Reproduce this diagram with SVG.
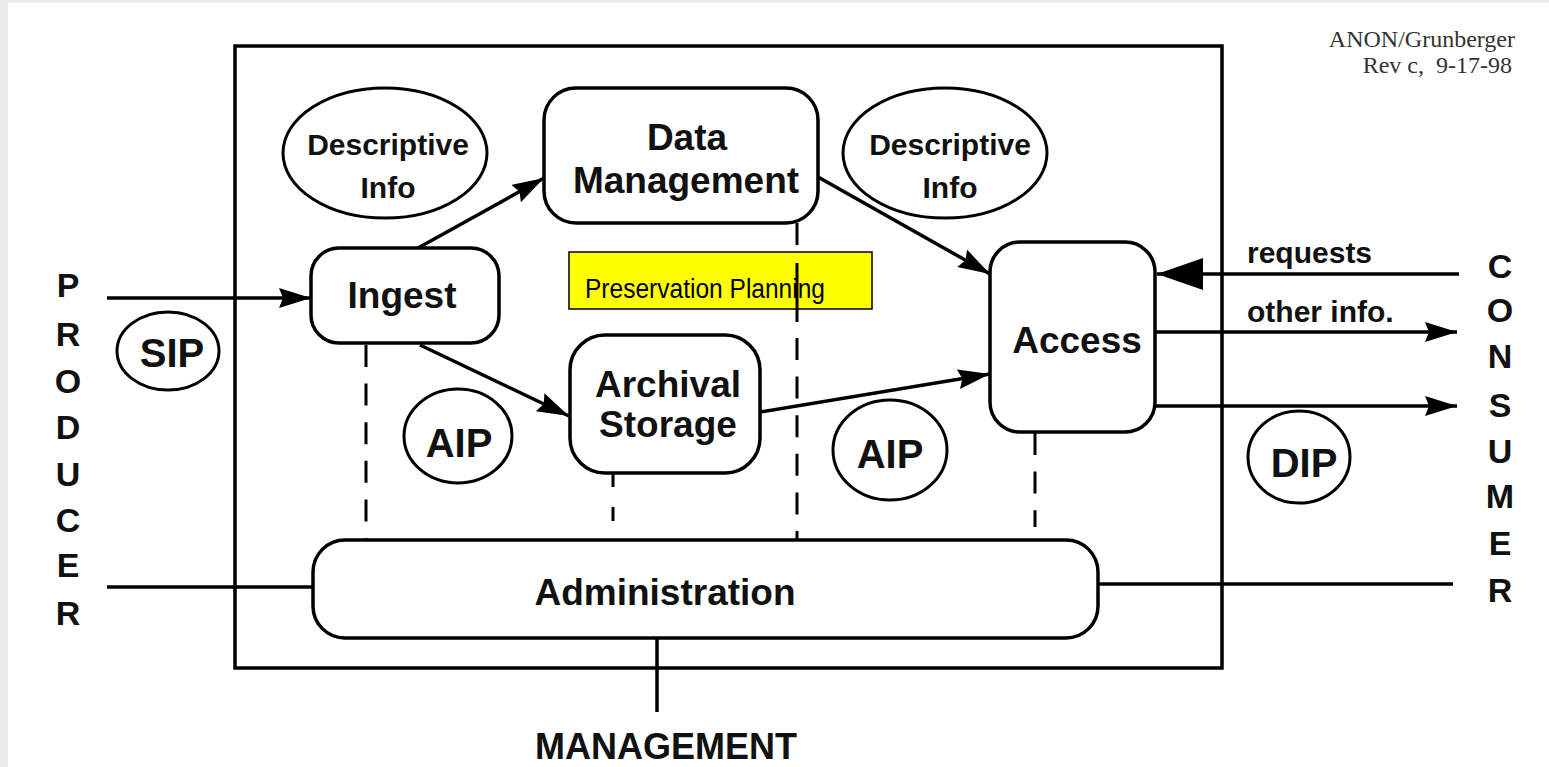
<svg xmlns="http://www.w3.org/2000/svg" width="1549" height="767" viewBox="0 0 1549 767">
<style>
.bx{fill:#fff;stroke:#000;stroke-width:3.5}
.el{fill:#fff;stroke:#000;stroke-width:3}
.ln{fill:none;stroke:#000;stroke-width:3.5}
.ds{fill:none;stroke:#000;stroke-width:3;stroke-dasharray:22 16.6}
.t{font-family:"Liberation Sans",Arial,sans-serif;font-weight:bold;fill:#111;text-anchor:middle}
.l{font-family:"Liberation Sans",Arial,sans-serif;font-weight:bold;fill:#111}
.s{font-family:"Liberation Serif","Times New Roman",serif;fill:#333;text-anchor:end;font-size:24px;white-space:pre}
</style>
<defs>
<marker id="arr" markerUnits="userSpaceOnUse" markerWidth="34" markerHeight="22" refX="32" refY="10" orient="auto">
<path d="M0,0 L32,10 L0,20 L4,10 z" fill="#000"/>
</marker>
<marker id="arrBig" markerUnits="userSpaceOnUse" markerWidth="48" markerHeight="34" refX="46" refY="16" orient="auto">
<path d="M0,0 L46,16 L0,32 z" fill="#000"/>
</marker>
</defs>
<rect x="0" y="0" width="1549" height="767" fill="#ebebeb"/>
<rect x="8" y="3" width="1541" height="764" fill="#fff"/>

<g id="archive-boundary"><rect x="235" y="46" width="987" height="622" fill="none" stroke="#000" stroke-width="3.5"/></g>

<g id="connectors">
<path class="ln" d="M107,298 H311" marker-end="url(#arr)"/>
<path class="ln" d="M107,587 H313"/>
<path class="ln" d="M1098,584 H1453"/>
<path class="ln" d="M1459,274 H1157" marker-end="url(#arrBig)"/>
<path class="ln" d="M1155,332 H1457" marker-end="url(#arr)"/>
<path class="ln" d="M1155,406 H1457" marker-end="url(#arr)"/>
<path class="ln" d="M418,248 L544,178" marker-end="url(#arr)"/>
<path class="ln" d="M420,345 L569,416" marker-end="url(#arr)"/>
<path class="ln" d="M818,177 L990,274" marker-end="url(#arr)"/>
<path class="ln" d="M760,412 L990,374" marker-end="url(#arr)"/>
<path class="ln" d="M657,638 V712"/>
<path class="ds" d="M366,345 V540"/>
<path class="ds" d="M613,473 V527" style="stroke-dasharray:14 20"/>
<path class="ds" d="M1035,433 V527"/>
</g>

<g id="preservation-planning">
<rect x="569" y="252" width="303" height="57" fill="#ffff00" stroke="#000" stroke-width="1.5"/>
<text x="585" y="298" font-family="'Liberation Sans',Arial,sans-serif" font-size="27" textLength="240" lengthAdjust="spacingAndGlyphs" fill="#000">Preservation Planning</text>
</g>
<g id="dm-admin-link"><path class="ds" d="M797,223 V540" style="stroke-dasharray:22 18 59 16 22 16.6 22 16.6 22 16.6 22 16.6 22 16.6 22 100"/></g>

<g id="desc-info-left"><ellipse class="el" cx="385" cy="153" rx="102" ry="65"/><text class="t" x="388" y="155" font-size="30">Descriptive</text><text class="t" x="388" y="198" font-size="30">Info</text></g>
<g id="desc-info-right"><ellipse class="el" cx="945" cy="153" rx="102" ry="65"/><text class="t" x="950" y="155" font-size="30">Descriptive</text><text class="t" x="950" y="198" font-size="30">Info</text></g>
<g id="ingest"><rect class="bx" x="311" y="248" width="188" height="95" rx="28"/><text class="t" x="402" y="308" font-size="37">Ingest</text></g>
<g id="data-management"><rect class="bx" x="544" y="88" width="274" height="135" rx="32"/><text class="t" x="687" y="150" font-size="37">Data</text><text class="t" x="686" y="193" font-size="37">Management</text></g>
<g id="archival-storage"><rect class="bx" x="570" y="335" width="190" height="138" rx="35"/><text class="t" x="668" y="397" font-size="37">Archival</text><text class="t" x="668" y="437" font-size="37">Storage</text></g>
<g id="access"><rect class="bx" x="990" y="242" width="165" height="190" rx="30"/><text class="t" x="1077" y="353" font-size="37">Access</text></g>
<g id="administration"><rect class="bx" x="313" y="540" width="785" height="98" rx="32"/><text class="t" x="665" y="605" font-size="37">Administration</text></g>

<g id="sip"><ellipse class="el" cx="168" cy="351" rx="51" ry="39"/><text class="t" x="172" y="367" font-size="40">SIP</text></g>
<g id="aip-left"><ellipse class="el" cx="458" cy="436" rx="54" ry="47"/><text class="t" x="459" y="457" font-size="40">AIP</text></g>
<g id="aip-right"><ellipse class="el" cx="890" cy="450" rx="57" ry="50"/><text class="t" x="890" y="468" font-size="40">AIP</text></g>
<g id="dip"><ellipse class="el" cx="1299" cy="457" rx="51" ry="46"/><text class="t" x="1304" y="477" font-size="40">DIP</text></g>

<g id="labels">
<text class="l" x="1247" y="263" font-size="30">requests</text>
<text class="l" x="1247" y="322" font-size="30">other info.</text>
<text class="t" x="666" y="759" font-size="36">MANAGEMENT</text>
<text class="s" x="1515" y="47">ANON/Grunberger</text>
<text class="s" x="1512" y="73">Rev c,  9-17-98</text>
</g>

<g id="producer" class="t" font-size="34">
<text class="t" x="68" y="297">P</text>
<text class="t" x="68" y="346">R</text>
<text class="t" x="68" y="393">O</text>
<text class="t" x="68" y="439">D</text>
<text class="t" x="68" y="486">U</text>
<text class="t" x="68" y="532">C</text>
<text class="t" x="68" y="577">E</text>
<text class="t" x="68" y="625">R</text>
</g>
<g id="consumer" class="t" font-size="34">
<text class="t" x="1500" y="278">C</text>
<text class="t" x="1500" y="322">O</text>
<text class="t" x="1500" y="368">N</text>
<text class="t" x="1500" y="417">S</text>
<text class="t" x="1500" y="463">U</text>
<text class="t" x="1500" y="508">M</text>
<text class="t" x="1500" y="555">E</text>
<text class="t" x="1500" y="602">R</text>
</g>
</svg>
